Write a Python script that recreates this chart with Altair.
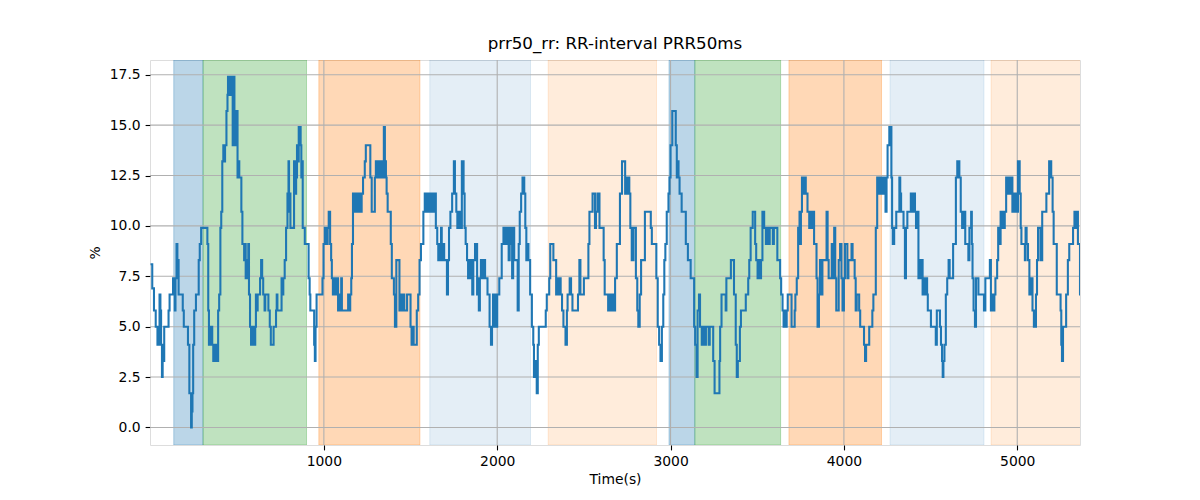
import altair as alt
import pandas as pd

# ---- line data (seconds, %) ----
time_s = [0, 10, 20, 30, 40, 52, 57, 61, 66, 70, 74, 79, 104, 110, 130, 140, 144, 150, 155, 158, 162, 186, 192, 216, 224, 234, 238, 242, 246, 252, 262, 278, 284, 292, 328, 333, 337, 342, 346, 352, 356, 362, 368, 372, 380, 385, 390, 396, 403, 408, 414, 420, 425, 430, 438, 444, 447, 455, 458, 466, 470, 474, 478, 484, 490, 494, 502, 508, 512, 524, 530, 540, 545, 549, 556, 560, 564, 568, 574, 580, 584, 590, 594, 600, 604, 608, 614, 618, 632, 638, 644, 650, 658, 662, 680, 688, 694, 710, 724, 728, 732, 756, 762, 766, 774, 782, 790, 796, 799, 803, 807, 828, 833, 840, 845, 850, 855, 866, 870, 874, 878, 890, 912, 918, 922, 944, 948, 952, 958, 992, 998, 1006, 1016, 1022, 1028, 1036, 1042, 1046, 1052, 1056, 1060, 1064, 1070, 1076, 1082, 1088, 1094, 1100, 1104, 1140, 1146, 1152, 1158, 1162, 1168, 1176, 1180, 1186, 1192, 1200, 1206, 1212, 1218, 1226, 1236, 1242, 1268, 1276, 1294, 1300, 1305, 1310, 1316, 1322, 1328, 1334, 1340, 1346, 1352, 1358, 1362, 1368, 1386, 1392, 1404, 1410, 1418, 1436, 1444, 1450, 1458, 1464, 1480, 1500, 1506, 1514, 1518, 1536, 1544, 1552, 1560, 1574, 1582, 1588, 1594, 1600, 1606, 1612, 1620, 1628, 1634, 1646, 1654, 1660, 1666, 1670, 1676, 1680, 1688, 1694, 1710, 1716, 1722, 1730, 1740, 1750, 1756, 1764, 1770, 1780, 1790, 1796, 1806, 1812, 1818, 1826, 1832, 1838, 1844, 1850, 1856, 1862, 1872, 1884, 1890, 1894, 1900, 1906, 1914, 1922, 1930, 1944, 1956, 1964, 1970, 1976, 1982, 1988, 1994, 2000, 2012, 2026, 2036, 2042, 2046, 2052, 2058, 2066, 2072, 2080, 2086, 2092, 2098, 2118, 2124, 2130, 2138, 2146, 2156, 2162, 2168, 2176, 2180, 2190, 2200, 2208, 2212, 2216, 2224, 2228, 2234, 2240, 2280, 2286, 2300, 2306, 2324, 2340, 2346, 2352, 2360, 2366, 2374, 2382, 2394, 2402, 2406, 2418, 2426, 2434, 2466, 2474, 2480, 2500, 2526, 2532, 2550, 2564, 2570, 2578, 2590, 2614, 2620, 2640, 2648, 2654, 2662, 2668, 2680, 2690, 2708, 2720, 2738, 2744, 2750, 2756, 2762, 2768, 2776, 2786, 2800, 2808, 2814, 2822, 2830, 2852, 2886, 2892, 2918, 2926, 2934, 2942, 2950, 2958, 2964, 2970, 2978, 2988, 2994, 3000, 3010, 3030, 3036, 3042, 3046, 3052, 3064, 3088, 3100, 3116, 3136, 3142, 3150, 3156, 3164, 3170, 3180, 3186, 3198, 3204, 3220, 3226, 3246, 3254, 3282, 3286, 3294, 3318, 3322, 3348, 3366, 3376, 3382, 3388, 3400, 3406, 3434, 3448, 3454, 3462, 3474, 3488, 3494, 3502, 3508, 3516, 3522, 3530, 3540, 3550, 3556, 3566, 3572, 3590, 3596, 3616, 3632, 3638, 3646, 3652, 3658, 3664, 3670, 3676, 3698, 3716, 3720, 3728, 3736, 3744, 3748, 3752, 3758, 3766, 3770, 3780, 3790, 3800, 3806, 3812, 3818, 3828, 3842, 3848, 3856, 3862, 3872, 3876, 3900, 3906, 3912, 3930, 3936, 3944, 3950, 3956, 3970, 3978, 3986, 3992, 4000, 4006, 4020, 4026, 4044, 4050, 4062, 4068, 4074, 4088, 4094, 4116, 4122, 4128, 4146, 4164, 4170, 4184, 4192, 4200, 4206, 4214, 4220, 4226, 4232, 4240, 4246, 4252, 4262, 4274, 4278, 4282, 4290, 4302, 4320, 4325, 4330, 4344, 4352, 4358, 4366, 4386, 4396, 4400, 4410, 4416, 4424, 4430, 4436, 4442, 4448, 4454, 4462, 4468, 4474, 4480, 4484, 4502, 4530, 4536, 4554, 4560, 4566, 4570, 4574, 4580, 4588, 4596, 4604, 4610, 4630, 4646, 4654, 4666, 4674, 4682, 4694, 4700, 4718, 4724, 4734, 4738, 4742, 4748, 4756, 4762, 4776, 4808, 4816, 4842, 4848, 4854, 4860, 4868, 4874, 4884, 4890, 4896, 4904, 4916, 4928, 4936, 4946, 4952, 4960, 4966, 4972, 4980, 4986, 4992, 4998, 5004, 5014, 5020, 5024, 5044, 5048, 5054, 5062, 5070, 5076, 5088, 5096, 5108, 5114, 5120, 5134, 5144, 5168, 5184, 5196, 5204, 5210, 5228, 5250, 5254, 5258, 5264, 5282, 5292, 5300, 5322, 5330, 5336, 5344, 5350, 5362, 5367]

prr50 = [8.1, 6.9, 5.8, 5.0, 4.1, 6.6, 5.8, 4.1, 2.5, 4.1, 3.3, 5.0, 5.8, 6.6, 7.4, 5.8, 7.4, 9.1, 7.4, 8.3, 6.6, 5.8, 5.0, 4.1, 1.7, 0.0, 0.8, 1.7, 4.1, 5.8, 6.6, 8.3, 9.1, 9.9, 9.1, 5.8, 4.1, 5.0, 4.1, 5.0, 4.1, 3.3, 4.1, 3.3, 4.1, 3.3, 5.8, 6.6, 9.9, 10.7, 13.2, 14.0, 13.2, 14.0, 15.7, 16.5, 17.4, 16.5, 17.4, 16.5, 17.4, 14.0, 17.4, 15.7, 14.0, 15.7, 12.4, 13.2, 12.4, 10.7, 9.1, 8.3, 9.1, 7.4, 8.3, 7.4, 9.1, 6.6, 5.0, 4.1, 5.0, 4.1, 5.0, 4.1, 5.0, 6.6, 5.8, 6.6, 7.4, 8.3, 7.4, 6.6, 5.8, 6.6, 5.8, 5.0, 4.1, 5.0, 5.8, 6.6, 5.8, 7.4, 6.6, 7.4, 8.3, 9.9, 11.6, 13.2, 10.7, 11.6, 9.9, 13.2, 11.6, 12.4, 14.0, 13.2, 14.9, 14.0, 12.4, 13.2, 9.9, 9.1, 7.4, 6.6, 5.8, 4.1, 3.3, 5.0, 6.6, 7.4, 9.1, 9.9, 9.1, 9.9, 10.7, 9.1, 8.3, 7.4, 6.6, 7.4, 6.6, 7.4, 6.6, 7.4, 5.8, 6.6, 5.8, 7.4, 5.8, 6.6, 5.8, 6.6, 7.4, 9.1, 11.6, 10.7, 11.6, 10.7, 11.6, 10.7, 11.6, 10.7, 11.6, 12.4, 13.2, 14.0, 12.4, 10.7, 12.4, 13.2, 12.4, 13.2, 12.4, 13.2, 12.4, 13.2, 12.4, 14.9, 13.2, 12.4, 11.6, 10.7, 9.1, 7.4, 6.6, 5.0, 8.3, 5.8, 6.6, 5.8, 6.6, 5.8, 6.6, 5.0, 4.1, 5.0, 4.1, 5.8, 6.6, 8.3, 9.1, 10.7, 11.6, 10.7, 11.6, 10.7, 11.6, 10.7, 11.6, 10.7, 11.6, 9.9, 9.1, 8.3, 9.1, 8.3, 9.9, 8.3, 9.1, 8.3, 6.6, 8.3, 9.9, 10.7, 11.6, 13.2, 11.6, 10.7, 9.9, 10.7, 9.9, 13.2, 11.6, 9.9, 9.1, 8.3, 7.4, 8.3, 7.4, 8.3, 6.6, 8.3, 9.1, 6.6, 7.4, 5.8, 7.4, 8.3, 7.4, 8.3, 7.4, 6.6, 5.0, 4.1, 5.0, 6.6, 5.0, 6.6, 5.0, 6.6, 7.4, 9.1, 9.9, 9.1, 9.9, 9.1, 9.9, 8.3, 9.9, 9.1, 7.4, 9.9, 8.3, 5.8, 9.1, 10.7, 11.6, 12.4, 11.6, 9.9, 8.3, 9.1, 8.3, 6.6, 5.0, 4.1, 2.5, 3.3, 2.5, 1.7, 4.1, 5.0, 5.8, 6.6, 7.4, 9.1, 8.3, 6.6, 7.4, 6.6, 7.4, 6.6, 5.8, 5.0, 4.1, 5.8, 6.6, 7.4, 6.6, 5.8, 6.6, 8.3, 6.6, 7.4, 9.1, 10.7, 11.6, 9.9, 10.7, 11.6, 9.9, 8.3, 6.6, 5.8, 6.6, 5.8, 6.6, 5.8, 7.4, 9.1, 11.6, 13.2, 11.6, 12.4, 11.6, 12.4, 11.6, 9.9, 8.3, 9.9, 7.4, 5.8, 5.0, 6.6, 8.3, 10.7, 9.9, 9.1, 7.4, 5.0, 4.1, 3.3, 5.0, 6.6, 8.3, 9.1, 10.7, 11.6, 12.4, 14.0, 15.7, 14.0, 12.4, 13.2, 12.4, 11.6, 10.7, 9.1, 8.3, 7.4, 5.0, 4.1, 2.5, 5.8, 6.6, 5.0, 4.1, 5.0, 4.1, 5.0, 4.1, 5.0, 3.3, 1.7, 3.3, 5.0, 6.6, 5.8, 7.4, 8.3, 6.6, 4.1, 2.5, 3.3, 5.0, 5.8, 6.6, 7.4, 8.3, 9.9, 10.7, 9.1, 8.3, 7.4, 8.3, 7.4, 8.3, 10.7, 9.9, 9.1, 9.9, 9.1, 9.9, 9.1, 9.9, 8.3, 7.4, 6.6, 5.8, 5.0, 5.8, 5.0, 5.8, 6.6, 5.0, 5.8, 6.6, 7.4, 9.9, 10.7, 9.1, 10.7, 12.4, 11.6, 12.4, 11.6, 10.7, 9.9, 10.7, 9.9, 10.7, 9.1, 7.4, 5.0, 6.6, 8.3, 6.6, 8.3, 10.7, 8.3, 7.4, 9.1, 7.4, 9.9, 7.4, 5.8, 8.3, 9.1, 7.4, 5.8, 7.4, 9.1, 7.4, 8.3, 9.1, 8.3, 7.4, 5.8, 6.6, 5.8, 5.0, 4.1, 3.3, 4.1, 5.0, 5.8, 6.6, 9.9, 12.4, 11.6, 12.4, 11.6, 12.4, 11.6, 12.4, 10.7, 12.4, 14.0, 14.9, 12.4, 9.9, 9.1, 9.9, 10.7, 12.4, 11.6, 10.7, 9.9, 7.4, 9.9, 10.7, 11.6, 10.7, 11.6, 10.7, 9.9, 10.7, 7.4, 8.3, 7.4, 8.3, 6.6, 7.4, 6.6, 7.4, 6.6, 5.8, 5.0, 4.1, 5.8, 5.0, 4.1, 3.3, 2.5, 3.3, 4.1, 6.6, 7.4, 8.3, 7.4, 9.1, 12.4, 13.2, 12.4, 10.7, 9.9, 10.7, 9.1, 8.3, 9.9, 10.7, 9.1, 7.4, 5.8, 5.0, 7.4, 6.6, 5.8, 7.4, 8.3, 5.8, 6.6, 5.8, 6.6, 7.4, 8.3, 9.9, 9.1, 10.7, 9.9, 10.7, 12.4, 11.6, 12.4, 11.6, 12.4, 10.7, 11.6, 10.7, 11.6, 10.7, 13.2, 11.6, 9.9, 9.1, 8.3, 9.9, 9.1, 8.3, 6.6, 7.4, 5.8, 5.0, 6.6, 8.3, 9.9, 8.3, 10.7, 11.6, 13.2, 12.4, 10.7, 9.1, 6.6, 5.8, 4.1, 3.3, 5.0, 6.6, 8.3, 9.1, 9.9, 10.7, 9.9, 10.7, 9.1, 6.6, 6.6]

# ---- shaded spans ----
span_start = [134, 303, 971, 1611, 2294, 2991, 3140, 3683, 4266, 4849]
span_end = [303, 900, 1554, 2192, 2919, 3140, 3635, 4217, 4808, 5367]
span_color = ["#1f77b4", "#2ca02c", "#ff7f0e", "#1f77b4", "#ff7f0e",
              "#1f77b4", "#2ca02c", "#ff7f0e", "#1f77b4", "#ff7f0e"]
span_alpha = [0.3, 0.3, 0.3, 0.12, 0.15, 0.3, 0.3, 0.3, 0.12, 0.15]

x_ticks = [1000, 2000, 3000, 4000, 5000]
y_ticks = [0.0, 2.5, 5.0, 7.5, 10.0, 12.5, 15.0, 17.5]

line_df = pd.DataFrame({"t": time_s, "v": prr50})
span_df = pd.DataFrame({"s": span_start, "e": span_end, "c": span_color, "a": span_alpha})
xt_df = pd.DataFrame({"t": x_ticks})
yt_df = pd.DataFrame({"v": y_ticks})

FONT = "DejaVu Sans"
xscale = alt.Scale(domain=[-3, 5362], nice=False, zero=False)
yscale = alt.Scale(domain=[-0.87, 18.23], nice=False, zero=False)

xaxis = alt.Axis(values=x_ticks, format="d", grid=False, domain=False, tickColor="black",
                 tickSize=4.9, tickWidth=1.1, labelPadding=4.9, labelFontSize=13.9,
                 labelFont=FONT, labelColor="black", title="Time(s)", titleFont=FONT,
                 titleFontSize=13.9, titleFontWeight="normal", titleColor="black", titlePadding=4)
yaxis = alt.Axis(values=y_ticks, format=".1f", grid=False, domain=False, tickColor="black",
                 tickSize=4.9, tickWidth=1.1, labelPadding=4.9, labelFontSize=13.9,
                 labelFont=FONT, labelColor="black", title="%", titleFont=FONT,
                 titleFontSize=13.9, titleFontWeight="normal", titleColor="black", titlePadding=7)

spans = alt.Chart(span_df).mark_rect(strokeWidth=1, clip=True).encode(
    x=alt.X("s:Q", scale=xscale, axis=xaxis),
    x2="e:Q",
    y=alt.value(0),
    y2=alt.value(385),
    fill=alt.Fill("c:N", scale=None),
    stroke=alt.Stroke("c:N", scale=None),
    fillOpacity=alt.FillOpacity("a:Q", scale=None),
    strokeOpacity=alt.StrokeOpacity("a:Q", scale=None),
)

vgrid = alt.Chart(xt_df).mark_rule(color="#b0b0b0", strokeWidth=1.1).encode(
    x=alt.X("t:Q", scale=xscale)
)
hgrid = alt.Chart(yt_df).mark_rule(color="#b0b0b0", strokeWidth=1.1).encode(
    y=alt.Y("v:Q", scale=yscale, axis=yaxis)
)

line = alt.Chart(line_df).mark_line(color="#1f77b4", strokeWidth=2.08,
                                    interpolate="step-after", clip=True).encode(
    x=alt.X("t:Q", scale=xscale),
    y=alt.Y("v:Q", scale=yscale),
)

chart = alt.layer(spans, vgrid, hgrid, line).properties(
    width=930,
    height=385,
    title=alt.TitleParams("prr50_rr: RR-interval PRR50ms", font=FONT, fontSize=16.7,
                          fontWeight="normal", color="black", anchor="middle", offset=7),
    autosize=alt.AutoSizeParams(type="none"),
    padding={"left": 142, "top": 52, "right": 112, "bottom": 46},
).configure_view(stroke="black", strokeWidth=1.1).configure(background="white")

chart.save("out.html", embed_options={"renderer": "svg", "actions": False})
